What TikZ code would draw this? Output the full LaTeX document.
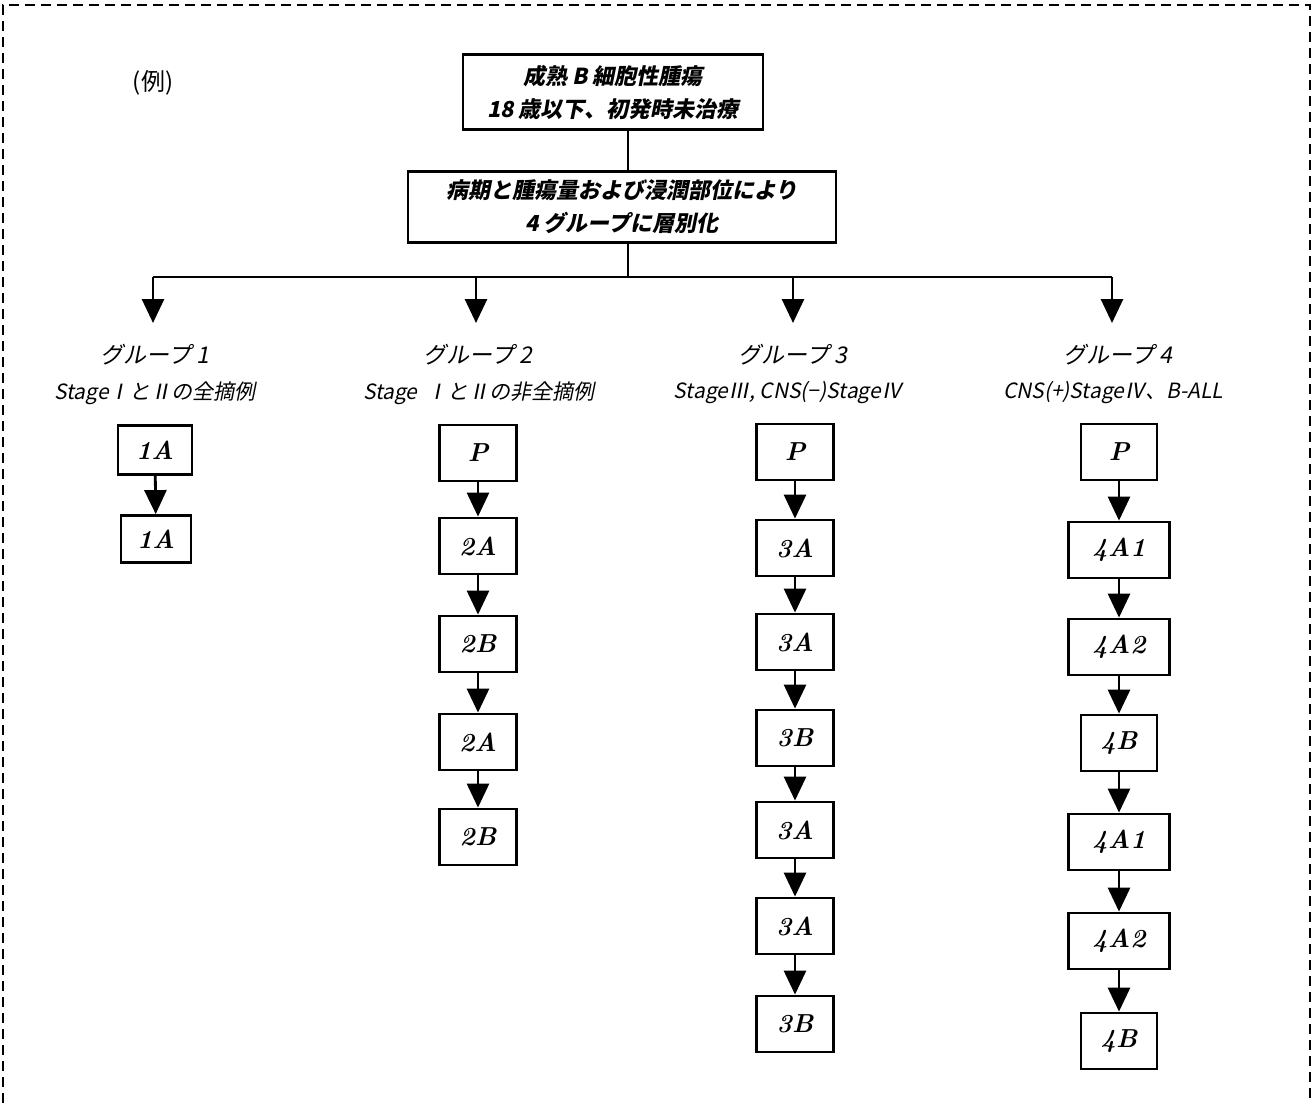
\documentclass[tikz,border=0pt]{standalone}
\usepackage{fontspec}
\usetikzlibrary{arrows.meta}
\newfontfamily\jp[FakeSlant=0.2]{Noto Sans CJK JP}
\newfontfamily\jpup{Noto Sans CJK JP}
\tikzset{
  box/.style={draw, line width=2.8pt, inner sep=0pt, minimum height=56pt, minimum width=77pt, font=\fontsize{26}{26}\selectfont\bfseries\itshape},
  head/.style={draw, line width=2.6pt, inner sep=0pt, align=center, font=\jp\bfseries\fontsize{22}{33}\selectfont},
  glabel/.style={inner sep=0pt, font=\jp\fontsize{23}{23}\selectfont},
  gsub/.style={inner sep=0pt, font=\jp\fontsize{21}{21}\selectfont},
  arr/.style={line width=2.8pt, -{Triangle[width=22pt,length=24pt]}},
  ln/.style={line width=2.6pt},
  frame/.style={line width=2.8pt, dash pattern=on 10pt off 6pt},
}
\begin{document}
\begin{tikzpicture}[x=1pt,y=-1pt]
\useasboundingbox (0,0) rectangle (1315,1103);
% outer dashed frame
\draw[frame] (3,1103) -- (3,5) -- (1310,5) -- (1310,1103);

\node[inner sep=0pt, font=\jpup\fontsize{24}{24}\selectfont] (rei) at (153,83) {(例)};

\node[head, minimum width=300pt, minimum height=75pt] (top) at (613,92) {成熟 B 細胞性腫瘍\\18 歳以下、初発時未治療};
\node[head, minimum width=428pt, minimum height=71pt] (mid) at (622,207) {病期と腫瘍量および浸潤部位により\\4 グループに層別化};

\coordinate (j) at (628,277);
\coordinate (b1) at (153,277);
\coordinate (b2) at (476,277);
\coordinate (b3) at (793,277);
\coordinate (b4) at (1112,277);
\coordinate (t1) at (153,323);
\coordinate (t2) at (476,323);
\coordinate (t3) at (793,323);
\coordinate (t4) at (1112,323);

\draw[ln] (top.south -| j) -- (mid.north -| j);
\draw[ln] (mid.south -| j) -- (j);
\draw[ln] (b1) -- (b4);
\draw[arr] (b1) -- (t1);
\draw[arr] (b2) -- (t2);
\draw[arr] (b3) -- (t3);
\draw[arr] (b4) -- (t4);

% group labels
\node[glabel] (g1a) at (155,355) {グループ 1};
\node[gsub] (g1b) at (155,393) {StageⅠとⅡの全摘例};
\node[glabel] (g2a) at (478,355) {グループ 2};
\node[gsub] (g2b) at (479,393) {Stage\ \ ⅠとⅡの非全摘例};
\node[glabel] (g3a) at (793,355) {グループ 3};
\node[gsub] (g3b) at (788,393) {StageⅢ, CNS(−)StageⅣ};
\node[glabel] (g4a) at (1118,355) {グループ 4};
\node[gsub] (g4b) at (1113,393) {CNS(+)StageⅣ、B-ALL};

% group 1
\node[box, minimum width=74pt, minimum height=49pt] (a1) at (155,450) {1A};
\node[box, minimum width=70pt, minimum height=47pt] (a2) at (156,539) {1A};
\draw[arr] (a1) -- (a2);

% group 2
\node[box] (p2) at (478,453) {P};
\node[box] (c1) at (478,546) {2A};
\node[box] (c2) at (478,644) {2B};
\node[box] (c3) at (478,742) {2A};
\node[box] (c4) at (478,837) {2B};
\draw[arr] (p2) -- (c1);
\draw[arr] (c1) -- (c2);
\draw[arr] (c2) -- (c3);
\draw[arr] (c3) -- (c4);

% group 3
\node[box] (p3) at (795,452) {P};
\node[box] (d1) at (795,548) {3A};
\node[box] (d2) at (795,642) {3A};
\node[box] (d3) at (795,738) {3B};
\node[box] (d4) at (795,830) {3A};
\node[box] (d5) at (795,926) {3A};
\node[box] (d6) at (795,1024) {3B};
\draw[arr] (p3) -- (d1);
\draw[arr] (d1) -- (d2);
\draw[arr] (d2) -- (d3);
\draw[arr] (d3) -- (d4);
\draw[arr] (d4) -- (d5);
\draw[arr] (d5) -- (d6);

% group 4
\node[box, minimum width=76pt] (p4) at (1119,452) {P};
\node[box, minimum width=101pt] (e1) at (1119,550) {4A1};
\node[box, minimum width=101pt] (e2) at (1119,647) {4A2};
\node[box, minimum width=76pt] (e3) at (1119,743) {4B};
\node[box, minimum width=101pt] (e4) at (1119,842) {4A1};
\node[box, minimum width=101pt] (e5) at (1119,941) {4A2};
\node[box, minimum width=76pt] (e6) at (1119,1041) {4B};
\draw[arr] (p4) -- (e1);
\draw[arr] (e1) -- (e2);
\draw[arr] (e2) -- (e3);
\draw[arr] (e3) -- (e4);
\draw[arr] (e4) -- (e5);
\draw[arr] (e5) -- (e6);
\end{tikzpicture}
\end{document}
